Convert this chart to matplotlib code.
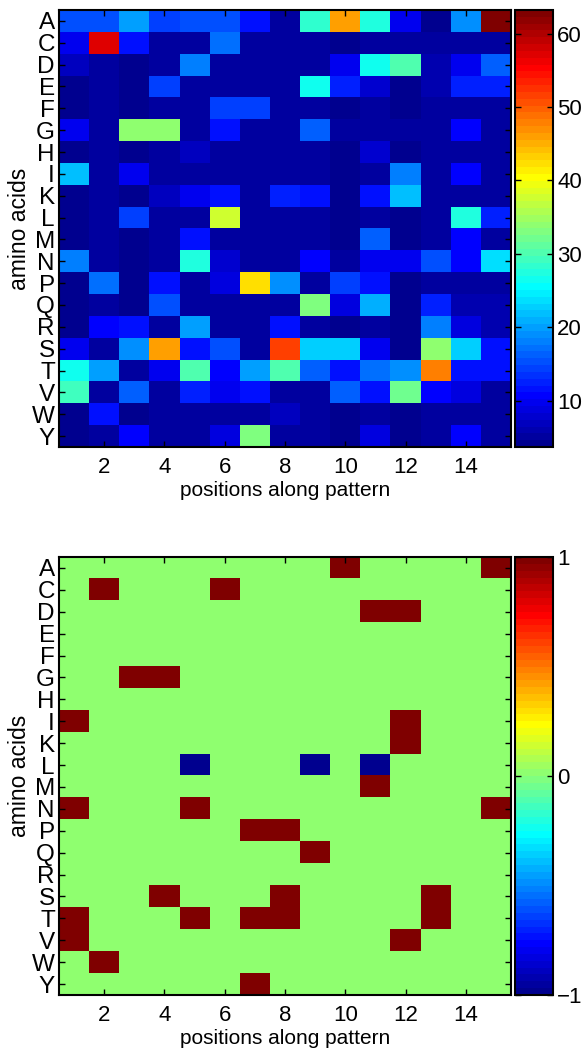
import numpy as np
import matplotlib
matplotlib.use("Agg")
import matplotlib.pyplot as plt
from matplotlib.colors import ListedColormap

plt.rcParams['font.family'] = ['Liberation Sans', 'DejaVu Sans']

amino_acids = ['A', 'C', 'D', 'E', 'F', 'G', 'H', 'I', 'K', 'L',
               'M', 'N', 'P', 'Q', 'R', 'S', 'T', 'V', 'W', 'Y']
positions = list(range(1, 16))
x_ticks = [2, 4, 6, 8, 10, 12, 14]
top_cbar_ticks = [10, 20, 30, 40, 50, 60]
bottom_cbar_ticks = [-1, 0, 1]
top_clim = (3.7, 63.2)
bottom_clim = (-1, 1)

# Top panel: counts per amino acid and position
row_A = [15, 15.5, 20, 14.3, 15.5, 15, 11.7, 4.7, 28.3, 46.3, 27.3, 9.5, 4.5, 19.5, 63]
row_C = [9.5, 57.5, 11.5, 5, 5, 17, 5, 5, 5, 4.5, 5, 4.8, 5, 5, 5]
row_D = [7, 5, 4.5, 5, 18.5, 5, 5, 5, 5.5, 10, 26.1, 30.5, 6, 10, 16.5]
row_E = [4.5, 5, 4.5, 14.3, 5, 5, 5, 5, 26.1, 12.5, 7.5, 4.5, 6, 12.3, 12.3]
row_F = [4.5, 5, 4.5, 5, 5, 14, 14, 5, 5, 4.5, 5, 4.5, 5, 5, 5]
row_G = [10, 5, 34.2, 33.5, 5, 11.5, 5, 5, 16, 4.8, 5, 4.8, 5, 11, 5]
row_H = [4.5, 5, 4.5, 5, 7, 5, 5, 5, 5, 4.5, 7.5, 4.5, 5, 5, 5]
row_I = [22, 5, 9.5, 5, 5, 5, 5, 5, 5, 4.5, 5, 18.5, 5, 11, 5]
row_K = [4.5, 5, 4.3, 7, 10, 11.5, 5, 12.5, 11.5, 4.5, 11.5, 22, 5, 5, 5]
row_L = [4.5, 5, 14.3, 5, 5, 37.9, 5, 5, 5, 4.5, 5, 4.5, 5, 27.8, 12.5]
row_M = [4.5, 5, 4.5, 5, 11.5, 5, 5, 5, 5, 4.5, 16.5, 4.5, 5, 11, 5]
row_N = [18, 5, 4.5, 5, 27, 7.5, 5, 5, 11, 5, 9.5, 9.5, 15, 11, 23.3]
row_P = [4.5, 17, 4.5, 11.5, 5, 8.5, 42.7, 19.5, 5, 14.3, 11.5, 4.5, 5, 5, 5]
row_Q = [4.5, 5.5, 4.5, 15, 5, 5, 5, 5, 32.7, 8.5, 20.5, 4.5, 12.5, 6, 6]
row_R = [4.5, 10.5, 11.5, 5, 19.8, 5, 5, 11.5, 5, 4.5, 5, 4.5, 18, 8.5, 6]
row_S = [10, 5.5, 19.5, 45.7, 11.5, 15, 5, 51.9, 22.4, 22.4, 10, 4.5, 33.8, 23.2, 11.5]
row_T = [26.1, 20.2, 5, 9.5, 29.8, 10.5, 20.2, 30, 15.8, 11.5, 17.3, 18.8, 47.5, 12, 12]
row_V = [29.1, 5, 16.5, 5, 12.8, 9.5, 11.5, 5, 5, 16.5, 11.5, 31.6, 10.5, 8.5, 5]
row_W = [4.5, 11.5, 4.3, 5, 5, 5, 5, 7, 5, 4.5, 5, 4.5, 5, 5, 5]
row_Y = [4.5, 5.5, 11, 5, 5, 8.5, 32.7, 5, 5, 4.5, 8.5, 4.5, 5, 11, 5]

top_rows = [row_A, row_C, row_D, row_E, row_F, row_G, row_H, row_I, row_K, row_L,
            row_M, row_N, row_P, row_Q, row_R, row_S, row_T, row_V, row_W, row_Y]

# Bottom panel: significance (+1 over-represented, -1 under-represented)
sig_A = [0, 0, 0, 0, 0, 0, 0, 0, 0, 1, 0, 0, 0, 0, 1]
sig_C = [0, 1, 0, 0, 0, 1, 0, 0, 0, 0, 0, 0, 0, 0, 0]
sig_D = [0, 0, 0, 0, 0, 0, 0, 0, 0, 0, 1, 1, 0, 0, 0]
sig_E = [0, 0, 0, 0, 0, 0, 0, 0, 0, 0, 0, 0, 0, 0, 0]
sig_F = [0, 0, 0, 0, 0, 0, 0, 0, 0, 0, 0, 0, 0, 0, 0]
sig_G = [0, 0, 1, 1, 0, 0, 0, 0, 0, 0, 0, 0, 0, 0, 0]
sig_H = [0, 0, 0, 0, 0, 0, 0, 0, 0, 0, 0, 0, 0, 0, 0]
sig_I = [1, 0, 0, 0, 0, 0, 0, 0, 0, 0, 0, 1, 0, 0, 0]
sig_K = [0, 0, 0, 0, 0, 0, 0, 0, 0, 0, 0, 1, 0, 0, 0]
sig_L = [0, 0, 0, 0, -1, 0, 0, 0, -1, 0, -1, 0, 0, 0, 0]
sig_M = [0, 0, 0, 0, 0, 0, 0, 0, 0, 0, 1, 0, 0, 0, 0]
sig_N = [1, 0, 0, 0, 1, 0, 0, 0, 0, 0, 0, 0, 0, 0, 1]
sig_P = [0, 0, 0, 0, 0, 0, 1, 1, 0, 0, 0, 0, 0, 0, 0]
sig_Q = [0, 0, 0, 0, 0, 0, 0, 0, 1, 0, 0, 0, 0, 0, 0]
sig_R = [0, 0, 0, 0, 0, 0, 0, 0, 0, 0, 0, 0, 0, 0, 0]
sig_S = [0, 0, 0, 1, 0, 0, 0, 1, 0, 0, 0, 0, 1, 0, 0]
sig_T = [1, 0, 0, 0, 1, 0, 1, 1, 0, 0, 0, 0, 1, 0, 0]
sig_V = [1, 0, 0, 0, 0, 0, 0, 0, 0, 0, 0, 1, 0, 0, 0]
sig_W = [0, 1, 0, 0, 0, 0, 0, 0, 0, 0, 0, 0, 0, 0, 0]
sig_Y = [0, 0, 0, 0, 0, 0, 1, 0, 0, 0, 0, 0, 0, 0, 0]

bottom_rows = [sig_A, sig_C, sig_D, sig_E, sig_F, sig_G, sig_H, sig_I, sig_K, sig_L,
               sig_M, sig_N, sig_P, sig_Q, sig_R, sig_S, sig_T, sig_V, sig_W, sig_Y]


def matlab_jet(m=64):
    n = int(np.ceil(m / 4))
    u = np.concatenate([np.arange(1, n + 1) / n, np.ones(n - 1), np.arange(n, 0, -1) / n])
    g = int(np.ceil(n / 2)) - (1 if m % 4 == 1 else 0) + np.arange(1, len(u) + 1)
    r = g + n
    b = g - n
    J = np.zeros((m, 3))
    mr = r <= m
    J[r[mr] - 1, 0] = u[mr]
    mg = g <= m
    J[g[mg] - 1, 1] = u[mg]
    mb = b >= 1
    J[b[mb] - 1, 2] = u[mb]
    return ListedColormap(J)


cmap = matlab_jet(64)

W, H = 582, 1048
fig = plt.figure(figsize=(W / 100, H / 100), dpi=100)


def fx(px):
    return px / W


def fy(py):
    return 1 - py / H


def draw_panel(data, clim, cticks, top_px, bot_px):
    ax = fig.add_axes([fx(59), fy(bot_px), fx(511) - fx(59), fy(top_px) - fy(bot_px)])
    arr = np.array(data, dtype=float)
    im = ax.imshow(arr, cmap=cmap, vmin=clim[0], vmax=clim[1], aspect='auto',
                   interpolation='nearest',
                   extent=(0.5, len(positions) + 0.5, len(amino_acids) + 0.5, 0.5))
    ax.set_xticks(x_ticks)
    ax.set_yticks(np.arange(1, len(amino_acids) + 1))
    ax.set_yticklabels(amino_acids)
    ax.tick_params(axis='both', direction='in', top=True, right=True,
                   length=4, width=1, labelsize=16, pad=3)
    ax.tick_params(axis='y', labelsize=17.5, pad=3)
    ax.tick_params(axis='x', pad=7)
    for s in ax.spines.values():
        s.set_linewidth(1.5)
    ax.set_ylabel('amino acids', fontsize=16.5, labelpad=1)
    ax.set_xlabel('positions along pattern', fontsize=15, labelpad=2)

    cax = fig.add_axes([fx(515), fy(bot_px), fx(553) - fx(515), fy(top_px) - fy(bot_px)])
    cb = fig.colorbar(im, cax=cax, ticks=cticks)
    cb.outline.set_linewidth(1.5)
    cax.tick_params(direction='in', left=True, right=True, length=4, width=1,
                    labelsize=16, pad=3)
    return ax


draw_panel(top_rows, top_clim, top_cbar_ticks, 10, 447)
draw_panel(bottom_rows, bottom_clim, bottom_cbar_ticks, 557, 995)

fig.savefig('out.png', dpi=100)
